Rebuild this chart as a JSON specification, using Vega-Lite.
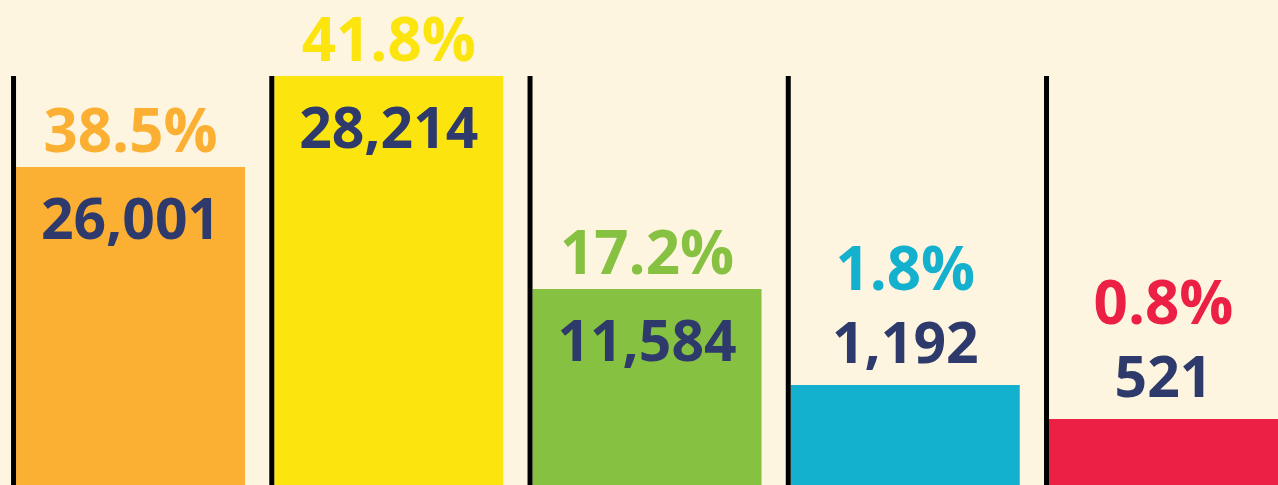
{
  "$schema": "https://vega.github.io/schema/vega-lite/v6.json",
  "width": 1278,
  "height": 485,
  "autosize": {"type": "none"},
  "padding": 0,
  "background": "#FDF5E0",
  "config": {"view": {"stroke": null}},
  "data": {
    "values": [
      {"cat": "A", "count": 26001, "pct": "38.5%", "h": 318},
      {"cat": "B", "count": 28214, "pct": "41.8%", "h": 409},
      {"cat": "C", "count": 11584, "pct": "17.2%", "h": 196},
      {"cat": "D", "count": 1192, "pct": "1.8%", "h": 100},
      {"cat": "E", "count": 521, "pct": "0.8%", "h": 66}
    ]
  },
  "encoding": {
    "x": {
      "field": "cat",
      "type": "nominal",
      "sort": null,
      "axis": null,
      "scale": {"range": [1.4, 1292.65], "paddingInner": 0.1133, "paddingOuter": 0.0567}
    }
  },
  "layer": [
    {
      "mark": {"type": "bar", "cornerRadius": 0},
      "encoding": {
        "y": {"field": "h", "type": "quantitative", "scale": {"domain": [0, 485], "nice": false}, "axis": null},
        "color": {
          "field": "cat",
          "type": "nominal",
          "legend": null,
          "scale": {"domain": ["A", "B", "C", "D", "E"], "range": ["#FCB033", "#FCE40F", "#86C142", "#14B1CE", "#EB2044"]}
        }
      }
    },
    {
      "mark": {"type": "rule", "strokeWidth": 5, "color": "#000000", "xOffset": -2.5},
      "encoding": {
        "x": {"field": "cat", "type": "nominal", "sort": null, "bandPosition": 0},
        "y": {"datum": 409, "type": "quantitative"},
        "y2": {"datum": 0}
      }
    },
    {
      "transform": [{"filter": "datum.h > 150"}],
      "mark": {"type": "text", "baseline": "alphabetic", "dy": 72, "font": "Open Sans", "fontWeight": "bold", "fontSize": 57, "color": "#2E3A6B"},
      "encoding": {
        "y": {"field": "h", "type": "quantitative"},
        "text": {"field": "count", "type": "quantitative", "format": ",d"}
      }
    },
    {
      "transform": [{"filter": "datum.h > 150"}],
      "mark": {"type": "text", "baseline": "alphabetic", "dy": -15, "font": "Open Sans", "fontWeight": "bold", "fontSize": 60},
      "encoding": {
        "y": {"field": "h", "type": "quantitative"},
        "text": {"field": "pct", "type": "nominal"},
        "color": {"field": "cat", "type": "nominal", "legend": null}
      }
    },
    {
      "transform": [{"filter": "datum.h <= 150"}],
      "mark": {"type": "text", "baseline": "alphabetic", "dy": -22, "font": "Open Sans", "fontWeight": "bold", "fontSize": 57, "color": "#2E3A6B"},
      "encoding": {
        "y": {"field": "h", "type": "quantitative"},
        "text": {"field": "count", "type": "quantitative", "format": ",d"}
      }
    },
    {
      "transform": [{"filter": "datum.h <= 150"}],
      "mark": {"type": "text", "baseline": "alphabetic", "dy": -95, "font": "Open Sans", "fontWeight": "bold", "fontSize": 60},
      "encoding": {
        "y": {"field": "h", "type": "quantitative"},
        "text": {"field": "pct", "type": "nominal"},
        "color": {"field": "cat", "type": "nominal", "legend": null}
      }
    }
  ]
}
